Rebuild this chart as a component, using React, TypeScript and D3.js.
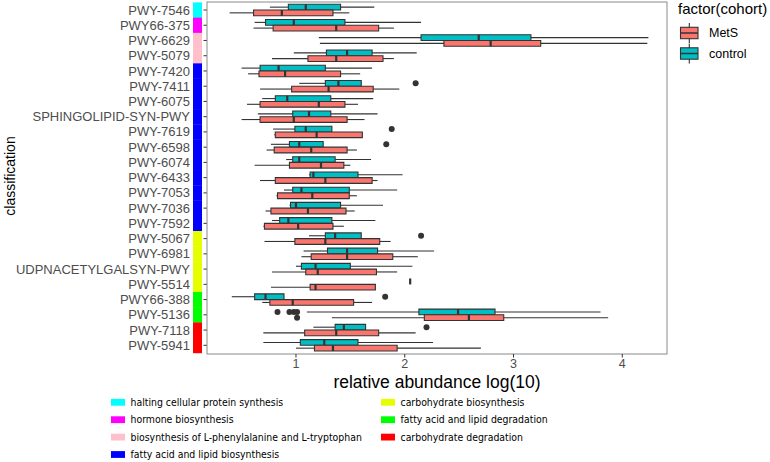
import * as d3 from 'd3';

// pathways, top to bottom
const pathways = [
  'PWY-7546', 'PWY66-375', 'PWY-6629', 'PWY-5079', 'PWY-7420', 'PWY-7411', 'PWY-6075',
  'SPHINGOLIPID-SYN-PWY', 'PWY-7619', 'PWY-6598', 'PWY-6074', 'PWY-6433', 'PWY-7053',
  'PWY-7036', 'PWY-7592', 'PWY-5067', 'PWY-6981', 'UDPNACETYLGALSYN-PWY', 'PWY-5514',
  'PWY66-388', 'PWY-5136', 'PWY-7118', 'PWY-5941',
];

// class index for each pathway
const pathwayClass = [0, 1, 2, 2, 3, 3, 3, 3, 3, 3, 3, 3, 3, 3, 3, 4, 4, 4, 4, 5, 5, 6, 6];

const classNames = [
  'halting cellular protein synthesis',
  'hormone biosynthesis',
  'biosynthesis of L-phenylalanine and L-tryptophan',
  'fatty acid and lipid biosynthesis',
  'carbohydrate biosynthesis',
  'fatty acid and lipid degradation',
  'carbohydrate degradation',
];
const classColors = ['#00FFFF', '#FF00FF', '#FFC0CB', '#0000FF', '#E6FF00', '#00FF00', '#FF0000'];

// [lower whisker, q1, median, q3, upper whisker]
const controlStats = [
  [0.76, 0.93, 1.09, 1.41, 1.72], [0.62, 0.72, 0.98, 1.45, 2.15], [1.21, 2.15, 2.68, 3.16, 4.24],
  [0.98, 1.28, 1.47, 1.70, 2.11], [0.50, 0.67, 0.84, 1.27, 1.70], [1.03, 1.27, 1.39, 1.60, 1.60],
  [0.69, 0.81, 0.92, 1.32, 1.71], [0.65, 0.97, 1.12, 1.32, 1.75], [0.79, 0.99, 1.09, 1.33, 1.33],
  [0.77, 0.94, 1.03, 1.25, 1.25], [0.91, 0.97, 1.03, 1.36, 1.69], [1.12, 1.13, 1.16, 1.57, 1.98],
  [0.89, 0.97, 1.05, 1.49, 1.93], [0.94, 0.95, 1.00, 1.41, 1.80], [0.78, 0.85, 0.93, 1.33, 1.73],
  [1.12, 1.27, 1.36, 1.60, 1.60], [1.07, 1.29, 1.47, 1.75, 2.27], [1.00, 1.05, 1.18, 1.50, 2.07],
  [2.05, 2.05, 2.05, 2.05, 2.05], [0.41, 0.62, 0.72, 0.89, 0.89], [1.10, 2.13, 2.49, 2.83, 3.80],
  [1.16, 1.36, 1.44, 1.64, 1.64], [0.70, 1.04, 1.26, 1.57, 2.26],
];
const metsStats = [
  [0.39, 0.61, 0.87, 1.34, 1.49], [0.61, 0.79, 1.37, 1.76, 1.90], [1.22, 2.36, 2.79, 3.25, 4.23],
  [0.78, 1.11, 1.37, 1.80, 1.90], [0.56, 0.66, 0.90, 1.41, 1.59], [0.67, 0.96, 1.30, 1.71, 1.95],
  [0.55, 0.67, 1.21, 1.45, 1.57], [0.50, 0.67, 0.98, 1.47, 1.63], [0.80, 0.81, 1.19, 1.61, 1.61],
  [0.73, 0.80, 1.14, 1.47, 1.56], [0.62, 0.94, 1.23, 1.44, 1.50], [0.67, 0.81, 1.27, 1.70, 1.75],
  [0.82, 0.83, 1.15, 1.49, 1.56], [0.72, 0.77, 1.11, 1.46, 1.54], [0.70, 0.71, 1.02, 1.34, 1.44],
  [0.71, 0.99, 1.27, 1.77, 1.87], [1.05, 1.14, 1.47, 1.89, 2.12], [0.78, 1.09, 1.20, 1.74, 1.93],
  [0.77, 1.13, 1.18, 1.73, 1.73], [0.69, 0.76, 0.97, 1.53, 1.70], [1.33, 2.18, 2.59, 2.91, 3.87],
  [0.70, 1.08, 1.37, 1.76, 2.10], [1.00, 1.17, 1.34, 1.93, 2.70],
];

// outliers: [row, value]
const controlOutliers = [
  [5, 2.10], [8, 1.88], [9, 1.83], [15, 2.15], [19, 1.82],
  [20, 0.83], [20, 0.94], [20, 0.98], [20, 1.01], [21, 2.20],
];
const metsOutliers = [[20, 1.01]];

const xTicks = [1, 2, 3, 4];

const cohorts = ['MetS', 'control'];
const cohortColors = ['#F8766D', '#00BFC4'];

export default function App() {
  const left = 207, right = 667, top = 2, bottom = 354;
  const x = d3.scaleLinear().domain([0.182, 4.411]).range([left, right]);
  const y = d3.scalePoint().domain(pathways).range([10, 345.3]);
  const step = y.step();
  const boxH = step * 0.375;
  const dark = '#333333';

  const drawBox = (s: number[], cy: number, fill: string, key: string) => {
    const [lo, q1, med, q3, hi] = s;
    const y0 = cy - boxH / 2, y1 = cy + boxH / 2;
    return (
      <g key={key}>
        <line x1={x(lo)} x2={x(q1)} y1={cy} y2={cy} stroke={dark} strokeWidth={1.1} />
        <line x1={x(q3)} x2={x(hi)} y1={cy} y2={cy} stroke={dark} strokeWidth={1.1} />
        <path d={`M${x(q1)},${y0}H${x(q3)}V${y1}H${x(q1)}Z`} fill={fill} stroke={dark} strokeWidth={1.1} />
        <line x1={x(med)} x2={x(med)} y1={y0} y2={y1} stroke={dark} strokeWidth={2.2} />
      </g>
    );
  };

  const sans = 'Liberation Sans, Arial, sans-serif';
  const legendFont = "Tahoma, 'DejaVu Sans Condensed', 'Noto Sans', sans-serif";

  return (
    <svg width={770} height={462} style={{ position: 'absolute', left: 0, top: 0, background: '#fff' }}>
      {/* class strip */}
      {pathways.map((p, i) => (
        <rect key={'s' + p} x={193} width={9} y={(y(p) as number) - step / 2} height={step + 0.3}
          fill={classColors[pathwayClass[i]]} />
      ))}

      {/* y labels and ticks */}
      {pathways.map((p) => (
        <g key={'t' + p}>
          <text x={190} y={y(p) as number} dy="0.35em" textAnchor="end" fontFamily={sans} fontSize={13} fill="#4D4D4D">{p}</text>
          <line x1={203.5} x2={207} y1={y(p) as number} y2={y(p) as number} stroke={dark} strokeWidth={1} />
        </g>
      ))}

      {/* boxes */}
      {pathways.map((p, i) => {
        const cy = y(p) as number;
        return (
          <g key={'b' + p}>
            {drawBox(controlStats[i], cy - boxH / 2, cohortColors[1], 'c')}
            {drawBox(metsStats[i], cy + boxH / 2, cohortColors[0], 'm')}
          </g>
        );
      })}
      {controlOutliers.map(([r, v], k) => (
        <circle key={'co' + k} cx={x(v)} cy={(y(pathways[r]) as number) - boxH / 2} r={3} fill={dark} />
      ))}
      {metsOutliers.map(([r, v], k) => (
        <circle key={'mo' + k} cx={x(v)} cy={(y(pathways[r]) as number) + boxH / 2} r={3} fill={dark} />
      ))}

      {/* panel border */}
      <rect x={left} y={top} width={right - left} height={bottom - top} fill="none" stroke="#8a8a8a" strokeWidth={1} />

      {/* x axis */}
      {xTicks.map((t) => (
        <g key={'x' + t}>
          <line x1={x(t)} x2={x(t)} y1={bottom} y2={bottom + 3.5} stroke={dark} strokeWidth={1} />
          <text x={x(t)} y={368} textAnchor="middle" fontFamily={sans} fontSize={12.5} fill="#4D4D4D">{t}</text>
        </g>
      ))}
      <text x={(left + right) / 2} y={388} textAnchor="middle" fontFamily={sans} fontSize={17.5} fill="#000">relative abundance log(10)</text>
      <text transform="translate(15,176) rotate(-90)" textAnchor="middle" fontFamily={sans} fontSize={14} fill="#000">classification</text>

      {/* cohort legend */}
      <text x={678} y={14} fontFamily={sans} fontSize={15} fill="#000">factor(cohort)</text>
      {cohorts.map((c, k) => {
        const cy = 33 + k * 20.5;
        return (
          <g key={'l' + c}>
            <line x1={689.3} x2={689.3} y1={cy - 10} y2={cy + 10} stroke={dark} strokeWidth={1.1} />
            <rect x={680.5} y={cy - 5.7} width={17.5} height={11.4} fill={cohortColors[k]} stroke={dark} strokeWidth={1.1} />
            <line x1={680.5} x2={698} y1={cy} y2={cy} stroke={dark} strokeWidth={1.5} />
            <text x={709} y={cy} dy="0.35em" fontFamily={sans} fontSize={12.5} fill="#000">{c}</text>
          </g>
        );
      })}

      {/* class legend */}
      {classNames.map((n, k) => {
        const col = k < 4 ? 0 : 1;
        const row = k < 4 ? k : k - 4;
        const cy = 402.3 + row * 17.4;
        const kx = col === 0 ? 111 : 381;
        return (
          <g key={'cl' + k}>
            <rect x={kx} y={cy - 3.4} width={14} height={6.8} fill={classColors[k]} />
            <text x={kx + 19.5} y={cy} dy="0.35em" fontFamily={legendFont} fontSize={10.4} fill="#000">{n}</text>
          </g>
        );
      })}
    </svg>
  );
}
